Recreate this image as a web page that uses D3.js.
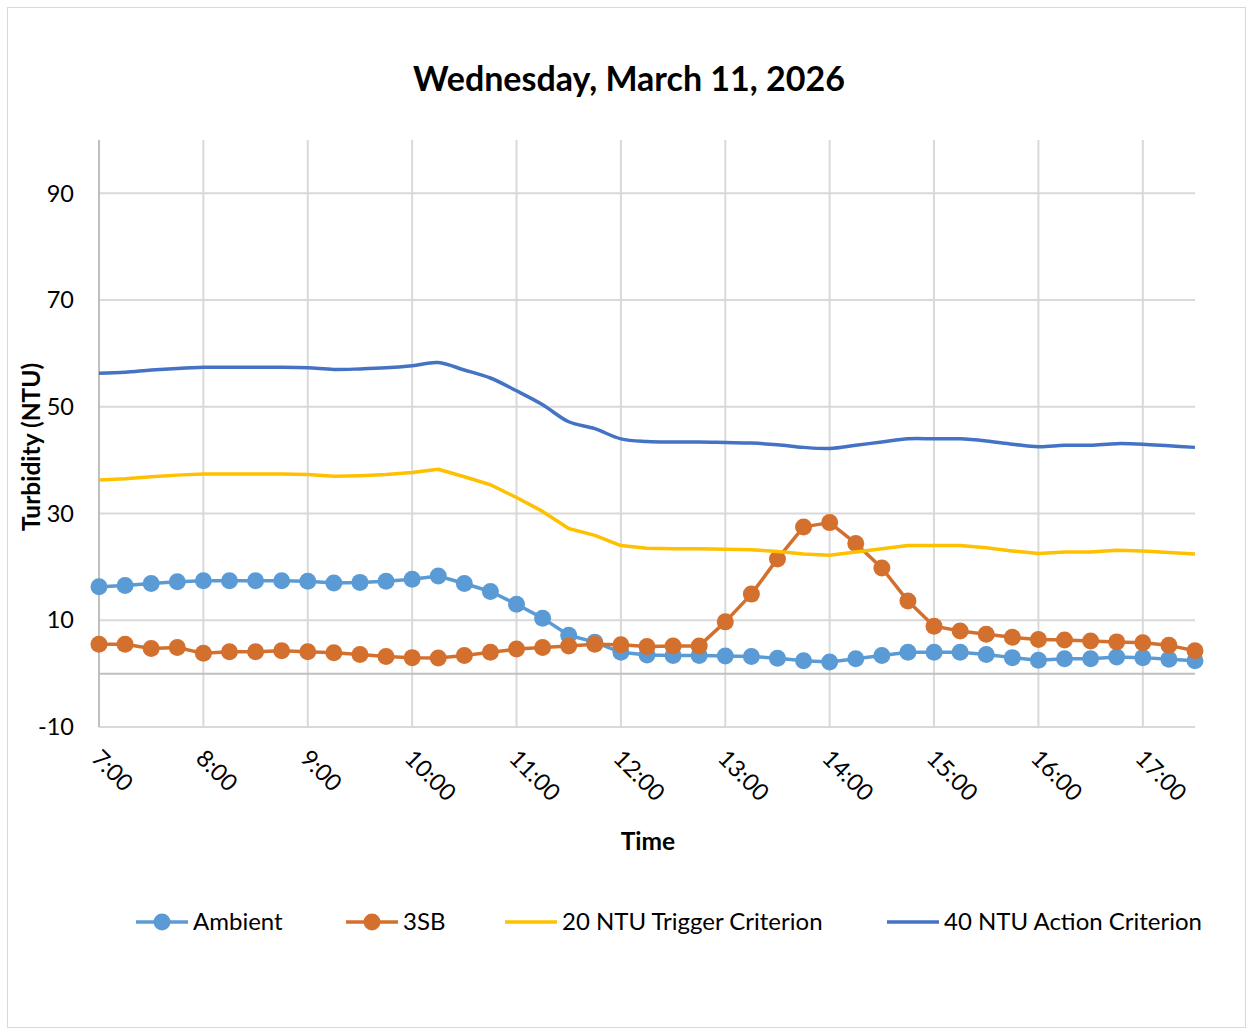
<!DOCTYPE html>
<html><head><meta charset="utf-8">
<script src="https://cdn.jsdelivr.net/npm/d3@7"></script>
<style>body{margin:0;background:#fff}svg{display:block}text{font-family:Lato,"Open Sans",sans-serif;fill:#000}</style>
</head><body>
<script>
const times = ["7:00","7:15","7:30","7:45","8:00","8:15","8:30","8:45","9:00","9:15","9:30","9:45",
"10:00","10:15","10:30","10:45","11:00","11:15","11:30","11:45","12:00","12:15","12:30","12:45",
"13:00","13:15","13:30","13:45","14:00","14:15","14:30","14:45","15:00","15:15","15:30","15:45",
"16:00","16:15","16:30","16:45","17:00","17:15","17:30"];
const ambient = [16.3,16.5,16.9,17.2,17.4,17.4,17.4,17.4,17.3,17.0,17.1,17.3,
17.7,18.3,16.9,15.4,13.0,10.4,7.2,5.9,4.0,3.5,3.4,3.4,
3.3,3.2,2.9,2.4,2.2,2.8,3.4,4.0,4.0,4.0,3.6,3.0,
2.5,2.8,2.8,3.1,3.0,2.7,2.4];
const sb3 = [5.5,5.5,4.7,4.9,3.8,4.1,4.1,4.3,4.1,3.9,3.6,3.2,
3.0,2.95,3.4,4.0,4.6,4.9,5.2,5.5,5.4,5.1,5.2,5.2,
9.7,14.9,21.5,27.5,28.3,24.4,19.8,13.6,8.9,8.0,7.4,6.8,
6.4,6.3,6.1,5.95,5.8,5.3,4.3];
const trigger = [36.3,36.5,36.9,37.2,37.4,37.4,37.4,37.4,37.3,37.0,37.1,37.3,
37.7,38.3,36.9,35.4,33.0,30.4,27.2,25.9,24.0,23.5,23.4,23.4,
23.3,23.2,22.9,22.4,22.2,22.8,23.4,24.0,24.0,24.0,23.6,23.0,
22.5,22.8,22.8,23.1,23.0,22.7,22.4];
const action = [56.3,56.5,56.9,57.2,57.4,57.4,57.4,57.4,57.3,57.0,57.1,57.3,
57.7,58.3,56.9,55.4,53.0,50.4,47.2,45.9,44.0,43.5,43.4,43.4,
43.3,43.2,42.9,42.4,42.2,42.8,43.4,44.0,44.0,44.0,43.6,43.0,
42.5,42.8,42.8,43.1,43.0,42.7,42.4];
const xTicks = ["7:00","8:00","9:00","10:00","11:00","12:00","13:00","14:00","15:00","16:00","17:00"];
const yTicks = [-10,10,30,50,70,90];
const seriesNames = ["Ambient","3SB","20 NTU Trigger Criterion","40 NTU Action Criterion"];
const colors = ["#5B9BD5","#D4702E","#FFC000","#4472C4"];

const W=1253,H=1030;
const svg=d3.select("body").append("svg").attr("width",W).attr("height",H);
svg.append("rect").attr("x",7.5).attr("y",7.5).attr("width",1238).attr("height",1020)
  .attr("fill","#fff").attr("stroke","#d9d9d9").attr("stroke-width",1);

const toMin=s=>{const [h,m]=s.split(":").map(Number);return h*60+m;};
const x=d3.scaleLinear().domain([toMin("7:00"),toMin("17:30")]).range([99,1195]);
const y=d3.scaleLinear().domain([-10,100]).range([727,140]);

const g=svg.append("g");
g.selectAll(".hg").data(yTicks).join("line")
  .attr("x1",99).attr("x2",1195).attr("y1",d=>y(d)).attr("y2",d=>y(d))
  .attr("stroke","#d9d9d9").attr("stroke-width",2);
g.selectAll(".vg").data(xTicks.slice(1)).join("line")
  .attr("x1",d=>x(toMin(d))).attr("x2",d=>x(toMin(d))).attr("y1",140).attr("y2",727)
  .attr("stroke","#d9d9d9").attr("stroke-width",2);
g.append("line").attr("x1",99).attr("x2",99).attr("y1",140).attr("y2",727).attr("stroke","#bfbfbf").attr("stroke-width",2);
g.append("line").attr("x1",99).attr("x2",1195).attr("y1",y(0)).attr("y2",y(0)).attr("stroke","#bfbfbf").attr("stroke-width",2);

svg.selectAll(".yt").data(yTicks).join("text")
  .attr("x",74).attr("y",d=>y(d)).attr("dy","0.35em").attr("text-anchor","end")
  .style("font-size","23.5px").text(d=>d);
svg.selectAll(".xt").data(xTicks).join("text")
  .attr("transform",d=>`translate(${x(toMin(d))-3},${754}) rotate(45)`)
  .attr("text-anchor","start").attr("dy","0.35em")
  .style("font-size","23.5px").text(d=>d);

svg.append("text").attr("x",629).attr("y",79).attr("dy","0.35em").attr("text-anchor","middle")
  .style("font-size","34px").style("font-weight","bold").text("Wednesday, March 11, 2026");
svg.append("text").attr("transform","translate(31,447) rotate(-90)").attr("dy","0.35em").attr("text-anchor","middle")
  .style("font-size","24.5px").style("font-weight","bold").text("Turbidity (NTU)");
svg.append("text").attr("x",648).attr("y",841).attr("dy","0.35em").attr("text-anchor","middle")
  .style("font-size","24.5px").style("font-weight","bold").text("Time");

const pts=arr=>arr.map((v,i)=>[x(toMin(times[i])),y(v)]);
const lineLin=d3.line();
const lineSmooth=d3.line().curve(d3.curveCatmullRom.alpha(0.5));

svg.append("path").attr("d",lineLin(pts(ambient))).attr("fill","none").attr("stroke",colors[0]).attr("stroke-width",3.5).attr("stroke-linejoin","round");
svg.append("g").selectAll("circle").data(pts(ambient)).join("circle").attr("cx",d=>d[0]).attr("cy",d=>d[1]).attr("r",8.5).attr("fill",colors[0]);
svg.append("path").attr("d",lineLin(pts(sb3))).attr("fill","none").attr("stroke",colors[1]).attr("stroke-width",3.5).attr("stroke-linejoin","round");
svg.append("g").selectAll("circle").data(pts(sb3)).join("circle").attr("cx",d=>d[0]).attr("cy",d=>d[1]).attr("r",8.5).attr("fill",colors[1]);
svg.append("path").attr("d",lineLin(pts(trigger))).attr("fill","none").attr("stroke",colors[2]).attr("stroke-width",3.5).attr("stroke-linejoin","round");
svg.append("path").attr("d",lineSmooth(pts(action))).attr("fill","none").attr("stroke",colors[3]).attr("stroke-width",3.5).attr("stroke-linejoin","round");

const legX=[136,346,505,887];
const lg=svg.append("g");
seriesNames.forEach((n,i)=>{
  const lx=legX[i], ly=922;
  lg.append("line").attr("x1",lx).attr("x2",lx+52).attr("y1",ly).attr("y2",ly).attr("stroke",colors[i]).attr("stroke-width",3.5);
  if(i<2) lg.append("circle").attr("cx",lx+26).attr("cy",ly).attr("r",8.5).attr("fill",colors[i]);
  lg.append("text").attr("x",lx+57).attr("y",ly).attr("dy","0.35em").style("font-size","24px").text(n);
});
</script>
</body></html>
